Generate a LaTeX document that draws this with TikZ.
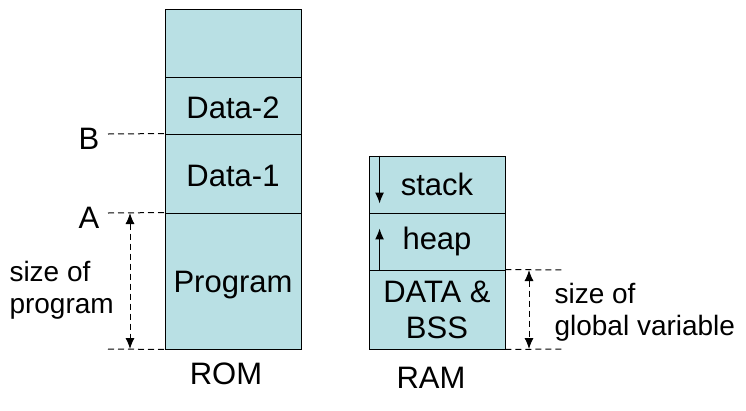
\documentclass[tikz,border=0pt]{standalone}
\usepackage{fontspec}
\setmainfont{Liberation Sans}
\usetikzlibrary{arrows.meta,positioning,calc}
\definecolor{Cell}{HTML}{B9E0E4}
\begin{document}
\begin{tikzpicture}[x=1pt,y=-1pt]
\useasboundingbox (0,0) rectangle (746,410);
\tikzset{
  cell/.style={draw=black,fill=Cell,line width=0.9pt,minimum width=136pt,inner sep=0pt,font=\fontsize{31}{36}\selectfont,align=center},
  guide/.style={dash pattern=on 6pt off 4pt,line width=1pt},
  span/.style={guide,{Latex[length=11pt,width=9pt]}-{Latex[length=11pt,width=9pt]}},
  lbl/.style={font=\fontsize{31}{34}\selectfont},
  note/.style={font=\fontsize{28}{32}\selectfont,align=left,anchor=west},
  growth/.style={-{Latex[length=11pt,width=9pt]},line width=1.4pt},
}
% ROM
\node[cell,minimum height=68pt] (romtop) at (233,43) {};
\node[cell,minimum height=57pt] (data2) at (233,105.5) {\raisebox{-2pt}[\height][\depth]{Data-2}};
\node[cell,minimum height=79pt] (data1) at (233,173.5) {\raisebox{-2pt}[\height][\depth]{Data-1}};
\node[cell,minimum height=136pt] (prog) at (233,281) {\raisebox{-4pt}[\height][\depth]{Program}};
\node[lbl] (rom) at (226,374) {ROM};
% RAM
\node[cell,minimum height=57pt] (stack) at (437,184.5) {stack};
\node[cell,minimum height=57pt] (heap) at (437,241.5) {heap};
\node[cell,minimum height=79pt] (bss) at (437,309.5) {DATA \&\\BSS};
\node[lbl] (ram) at (431,378) {RAM};
% labels
\node[lbl] (labB) at (89,139) {B};
\node[lbl] (labA) at (89,218) {A};
\node[note] (progsize) at (6,290) {size of\\program};
\node[note] (globsize) at (551,312) {size of\\global variable};
% guide lines
\coordinate (bL) at (108,134);
\coordinate (aL) at (108,213);
\coordinate (pL) at (108,349);
\draw[guide] (bL) -- (data1.north west);
\draw[guide] (aL) -- (prog.north west);
\draw[guide] (pL) -- (prog.south west);
\coordinate (psTop) at ($(aL)+(22,0)$);
\coordinate (psBot) at ($(pL)+(22,0)$);
\draw[span] (psTop) -- (psBot);
\coordinate (gR) at (565,270);
\coordinate (bR) at (565,349);
\draw[guide] (bss.north east) -- (gR);
\draw[guide] (bss.south east) -- (bR);
\coordinate (gsTop) at ($(gR)+(-36,0)$);
\coordinate (gsBot) at ($(bR)+(-36,0)$);
\draw[span] (gsTop) -- (gsBot);
% growth arrows
\coordinate (stEnd) at ($(stack.north west)+(11,48)$);
\coordinate (hpEnd) at ($(heap.south west)+(11,-42)$);
\draw[growth] ($(stack.north west)+(11,0)$) -- (stEnd);
\draw[growth] ($(heap.south west)+(11,0)$) -- (hpEnd);
\end{tikzpicture}
\end{document}
